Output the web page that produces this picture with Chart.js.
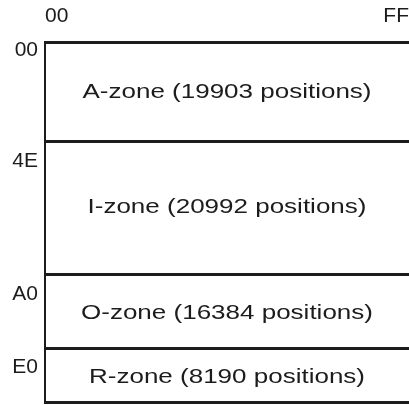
<!DOCTYPE html>
<html><head><meta charset="utf-8">
<script src="https://cdn.jsdelivr.net/npm/chart.js@4"></script>
<style>html,body{margin:0;padding:0;background:#fff}#wrap{width:409px;height:405px;position:relative}</style>
</head><body><div id="wrap"><canvas id="c"></canvas></div>
<script>
// Zones
const zoneNames = ['A-zone', 'I-zone', 'O-zone', 'R-zone'];
const zonePositions = [19903, 20992, 16384, 8190];
// vertical extent of each zone as drawn in the figure (relative units)
const zoneSpan = [99.5, 133, 74, 54];
// tick labels
const rowTickLabels = ['00', '4E', 'A0', 'E0'];
const colTickLabels = ['00', 'FF'];
const colTickValues = [0, 255];

const bounds = [0];
zoneSpan.forEach(v => bounds.push(bounds[bounds.length - 1] + v));
const total = bounds[bounds.length - 1];
const ink = '#1c1c1c';

const zoneLabelPlugin = {
  id: 'zoneLabels',
  afterDatasetsDraw(chart) {
    const ctx = chart.ctx;
    chart.data.datasets.forEach((ds, i) => {
      const bar = chart.getDatasetMeta(i).data[0];
      const p = bar.getProps(['x', 'y', 'base'], true);
      const cy = (p.y + p.base) / 2 + (i > 1 ? 2 : 0);
      ctx.save();
      ctx.font = '20px "Liberation Sans", Arial, sans-serif';
      ctx.fillStyle = ink;
      ctx.textAlign = 'center';
      ctx.textBaseline = 'middle';
      ctx.translate(p.x, cy);
      ctx.scale(1.3, 1);
      ctx.fillText(zoneNames[i] + ' (' + zonePositions[i] + ' positions)', 0, 0);
      ctx.restore();
    });
  }
};

new Chart(document.getElementById('c'), {
  type: 'bar',
  data: {
    labels: [''],
    datasets: zoneNames.map((n, i) => ({
      label: n,
      data: [zoneSpan[i]],
      backgroundColor: '#ffffff',
      borderWidth: 0,
      xAxisID: 'xb',
      yAxisID: 'y',
      stack: 's',
      barPercentage: 1,
      categoryPercentage: 1
    }))
  },
  options: {
    responsive: true,
    maintainAspectRatio: false,
    animation: false,
    layout: { padding: { left: 0, right: 0, top: 0, bottom: 3 } },
    plugins: { legend: { display: false }, tooltip: { enabled: false } },
    scales: {
      xb: { type: 'category', display: false, stacked: true },
      x: {
        type: 'linear', position: 'top', min: 0, max: 255, offset: false,
        grid: { display: false, offset: false }, border: { display: false },
        afterBuildTicks: s => { s.ticks = colTickValues.map(v => ({ value: v })); },
        afterFit: s => { s.height = 42; s.paddingLeft = 0; s.paddingRight = 0; },
        ticks: {
          align: 'inner', autoSkip: false, maxRotation: 0, padding: 5,
          color: ink, font: { family: '"Liberation Sans", Arial, sans-serif', size: 21 },
          callback: (v, i) => colTickLabels[i]
        }
      },
      y: {
        type: 'linear', position: 'left', reverse: true, min: 0, max: total, stacked: true,
        afterBuildTicks: s => { s.ticks = bounds.map(v => ({ value: v })); },
        afterFit: s => { s.width = 45; s.paddingTop = 0; s.paddingBottom = 0; },
        grid: { color: ink, lineWidth: 3, drawTicks: false, z: 1 },
        border: { display: true, color: ink, width: 2, z: 1 },
        ticks: {
          autoSkip: false, padding: 7, labelOffset: 8, color: ink,
          font: { family: '"Liberation Sans", Arial, sans-serif', size: 21, lineHeight: 1.1 },
          callback: (v, i) => i === 0 ? rowTickLabels[0] : (i < rowTickLabels.length ? ['', rowTickLabels[i]] : '')
        }
      }
    }
  },
  plugins: [zoneLabelPlugin]
});
</script>
</body></html>
